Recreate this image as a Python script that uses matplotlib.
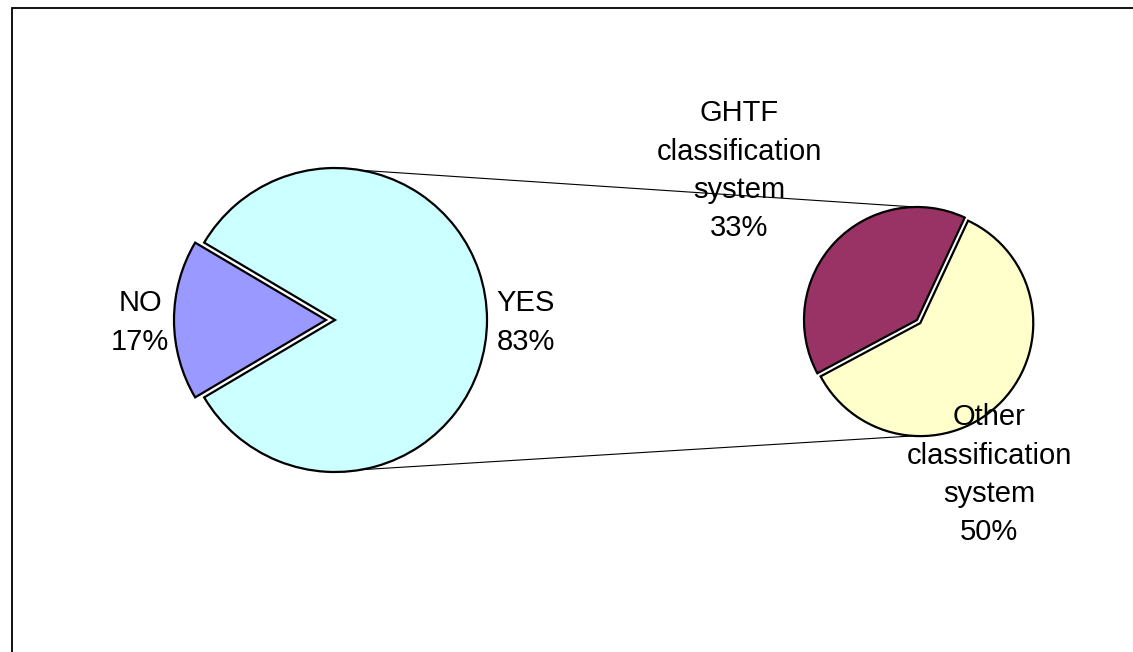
import numpy as np
import matplotlib
matplotlib.use("Agg")
import matplotlib.pyplot as plt
from matplotlib.patches import Rectangle

plt.rcParams['font.family'] = ['Liberation Sans', 'DejaVu Sans']

# ---- data ----
main_labels = ["YES", "NO"]
main_values = [83, 17]
main_colors = ["#CCFFFF", "#9999FF"]

sub_labels = ["GHTF\nclassification\nsystem", "Other\nclassification\nsystem"]
sub_values = [33, 50]
sub_colors = ["#993366", "#FFFFCC"]

W, H = 1133, 652
fig = plt.figure(figsize=(W / 100, H / 100), dpi=100)
ax = fig.add_axes([0, 0, 1, 1])

def py(y):  # pixel y (top-down) -> data y
    return H - y

# ---- main pie ----
c1 = (335, py(320)); r1 = 152
no_frac = main_values[1] / sum(main_values)
start1 = 180 + no_frac * 360 / 2
ax.pie(main_values, colors=main_colors, center=c1, radius=r1,
       startangle=start1, explode=[0, 9], frame=True,
       wedgeprops=dict(edgecolor="black", linewidth=1.6))

# ---- secondary pie ----
c2 = (917, py(320)); r2 = 113
ax.pie(sub_values, colors=sub_colors, center=c2, radius=r2,
       startangle=65, explode=[0, 4.5], frame=True,
       wedgeprops=dict(edgecolor="black", linewidth=1.6))

# ---- connector lines ----
a = np.deg2rad(80)
ax.plot([c1[0] + r1 * np.cos(a), c2[0] - 2], [c1[1] + r1 * np.sin(a), c2[1] + r2],
        color="black", lw=0.8, zorder=0)
ax.plot([c1[0] + r1 * np.cos(a), c2[0] - 5], [c1[1] - r1 * np.sin(a), c2[1] - r2 - 3],
        color="black", lw=0.8, zorder=0)

# ---- labels ----
def label(text, cx, first_baseline, spacing=38.5):
    for i, line in enumerate(text.split("\n")):
        ax.text(cx, py(first_baseline + i * spacing), line, ha="center",
                va="baseline", fontsize=21, color="black", zorder=5)

pct = lambda v: f"{round(v / sum(main_values) * 100)}%"
label(f"{main_labels[1]}\n{pct(main_values[1])}", 140, 311)
label(f"{main_labels[0]}\n{pct(main_values[0])}", 526, 311)
label(f"{sub_labels[0]}\n{pct(sub_values[0])}", 739, 121)
label(f"{sub_labels[1]}\n{pct(sub_values[1])}", 989, 425)

# ---- frame ----
ax.add_patch(Rectangle((12, -20), 1200, py(8) + 20, fill=False,
                       edgecolor="black", lw=1.3, zorder=6))

ax.set_xlim(0, W)
ax.set_ylim(0, H)
ax.set_aspect("equal")
ax.axis("off")
fig.savefig("out.png", dpi=100)
